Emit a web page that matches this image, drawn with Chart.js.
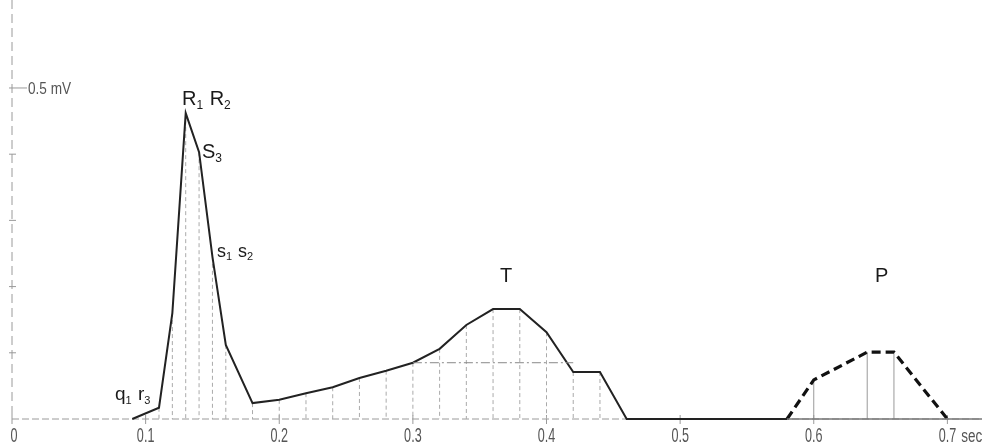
<!DOCTYPE html>
<html>
<head>
<meta charset="utf-8">
<script src="https://cdn.jsdelivr.net/npm/chart.js@4/dist/chart.umd.min.js"></script>
<style>
body { margin: 0; background: #fff; }
#wrap { width: 982px; height: 447px; }
</style>
</head>
<body>
<div id="wrap"><canvas id="ecg" width="982" height="447"></canvas></div>
<script>
// time in sec, voltage in mV
const qrstTimes = [0.09, 0.11, 0.12, 0.13, 0.14, 0.15, 0.16, 0.18, 0.20, 0.22, 0.24, 0.26, 0.28, 0.30, 0.32, 0.34, 0.36, 0.38, 0.40, 0.42, 0.44, 0.46, 0.58];
const qrstValues = [0, 0.017, 0.160, 0.462, 0.403, 0.245, 0.112, 0.024, 0.029, 0.039, 0.048, 0.062, 0.073, 0.085, 0.106, 0.142, 0.166, 0.166, 0.131, 0.071, 0.071, 0, 0];
const pTimes = [0.58, 0.60, 0.64, 0.66, 0.70];
const pValues = [0, 0.059, 0.101, 0.101, 0];
const tLevelTimes = [0.30, 0.42];
const tLevelValues = [0.085, 0.085];
const restTimes = [0.58, 0.73];
const restValues = [0, 0];

const xTicks = [0, 0.1, 0.2, 0.3, 0.4, 0.5, 0.6, 0.7];
const xTickLabels = ['0', '0.1', '0.2', '0.3', '0.4', '0.5', '0.6', '0.7'];
const xUnit = 'sec';
const yTicks = [0.1, 0.2, 0.3, 0.4, 0.5];
const yLabel = '0.5 mV';

// wave names, '_' marks a subscript character; anchored at (sec, mV)
const waveNames = ['R_1 R_2', 'S_3', 's_1 s_2', 'T', 'P', 'q_1 r_3'];
const waveAtT = [0.1272, 0.1422, 0.1534, 0.3652, 0.6458, 0.0771];
const waveAtV = [0.474, 0.394, 0.245, 0.207, 0.207, 0.0287];
const waveSize = [20, 20, 18, 20, 20, 19];

function pts(xs, ys) {
    return xs.map((x, i) => ({ x: x, y: ys[i] }));
}

function drawSubText(ctx, str, x, y, size) {
    let cx = x;
    for (let i = 0; i < str.length; i++) {
        let ch = str[i];
        if (ch === '_') {
            ch = str[++i];
            ctx.font = Math.round(size * 0.6) + 'px "Liberation Sans", Arial, sans-serif';
            ctx.fillText(ch, cx, y + size * 0.2);
            cx += ctx.measureText(ch).width;
        } else {
            ctx.font = size + 'px "Liberation Sans", Arial, sans-serif';
            ctx.fillText(ch, cx, y);
            cx += ctx.measureText(ch).width + (ch === ' ' ? 1 : 0);
        }
    }
}

function narrowText(ctx, str, x, y, size, squeeze, align) {
    ctx.save();
    ctx.font = size + 'px "Liberation Sans", Arial, sans-serif';
    const w = ctx.measureText(str).width * squeeze;
    let left = x;
    if (align === 'center') left = x - w / 2;
    ctx.translate(left, y);
    ctx.scale(squeeze, 1);
    ctx.textAlign = 'left';
    ctx.fillText(str, 0, 0);
    ctx.restore();
    return left + w;
}

const axesPlugin = {
    id: 'ecgAxes',
    beforeDatasetsDraw(chart) {
        const ctx = chart.ctx;
        const xs = chart.scales.x, ys = chart.scales.y;
        const x0 = xs.getPixelForValue(0), y0 = ys.getPixelForValue(0);
        ctx.save();
        // y axis
        ctx.strokeStyle = '#9a9a9a';
        ctx.lineWidth = 1;
        ctx.setLineDash([9, 5]);
        ctx.beginPath();
        ctx.moveTo(x0, 0);
        ctx.lineTo(x0, y0);
        ctx.stroke();
        // x axis
        ctx.setLineDash([7, 3]);
        ctx.beginPath();
        ctx.moveTo(x0, y0);
        ctx.lineTo(chart.width, y0);
        ctx.stroke();
        ctx.setLineDash([]);
        yTicks.forEach(v => {
            const py = ys.getPixelForValue(v);
            ctx.beginPath();
            ctx.moveTo(x0 - 3, py);
            ctx.lineTo(x0 + (v === 0.5 ? 15 : 4), py);
            ctx.stroke();
        });
        xTicks.forEach(t => {
            const px = xs.getPixelForValue(t);
            ctx.beginPath();
            ctx.moveTo(px, y0 - 4);
            ctx.lineTo(px, y0 + 5);
            ctx.stroke();
        });
        // drop lines under the sampled points
        chart.data.datasets.forEach((ds, di) => {
            if (!ds.drop) return;
            ctx.strokeStyle = ds.dropColor;
            ctx.setLineDash(ds.dropDash);
            chart.getDatasetMeta(di).data.forEach((el, i) => {
                if (ds.data[i].y <= 0) return;
                ctx.beginPath();
                ctx.moveTo(el.x, el.y);
                ctx.lineTo(el.x, y0);
                ctx.stroke();
            });
        });
        ctx.restore();
    },
    afterDraw(chart) {
        const ctx = chart.ctx;
        const xs = chart.scales.x, ys = chart.scales.y;
        ctx.save();
        ctx.fillStyle = '#555';
        ctx.textBaseline = 'alphabetic';
        xTicks.forEach((t, i) => {
            const px = xs.getPixelForValue(t);
            const end = narrowText(ctx, xTickLabels[i], i === 0 ? px + 2 : px, 442, 21, 0.6, 'center');
            if (i === xTicks.length - 1) narrowText(ctx, xUnit, end + 5, 442, 18, 0.75, 'left');
        });
        narrowText(ctx, yLabel, 28, ys.getPixelForValue(0.5) + 6, 17, 0.8, 'left');
        ctx.fillStyle = '#1a1a1a';
        waveNames.forEach((s, i) => {
            drawSubText(ctx, s, xs.getPixelForValue(waveAtT[i]), ys.getPixelForValue(waveAtV[i]), waveSize[i]);
        });
        ctx.restore();
    }
};

new Chart(document.getElementById('ecg'), {
    type: 'line',
    data: {
        datasets: [
            {
                data: pts(restTimes, restValues),
                borderColor: '#777',
                borderWidth: 1.5,
                pointRadius: 0,
                clip: false
            },
            {
                data: pts(tLevelTimes, tLevelValues),
                borderColor: '#888',
                borderWidth: 1,
                borderDash: [9, 3, 2, 3],
                pointRadius: 0,
                clip: false
            },
            {
                data: pts(qrstTimes, qrstValues),
                borderColor: '#222',
                borderWidth: 2,
                pointRadius: 0,
                clip: false,
                drop: true,
                dropColor: '#aaa',
                dropDash: [4, 3]
            },
            {
                data: pts(pTimes, pValues),
                borderColor: '#111',
                borderWidth: 3.2,
                borderDash: [9, 5],
                pointRadius: 0,
                clip: false,
                drop: true,
                dropColor: '#9a9a9a',
                dropDash: []
            }
        ]
    },
    options: {
        responsive: false,
        animation: false,
        devicePixelRatio: 1,
        layout: { padding: { left: 12, right: 0, top: 0, bottom: 28 } },
        plugins: { legend: { display: false }, tooltip: { enabled: false } },
        scales: {
            x: { type: 'linear', min: 0, max: 0.7259, display: false },
            y: { min: 0, max: 0.6329, display: false }
        }
    },
    plugins: [axesPlugin]
});
</script>
</body>
</html>
